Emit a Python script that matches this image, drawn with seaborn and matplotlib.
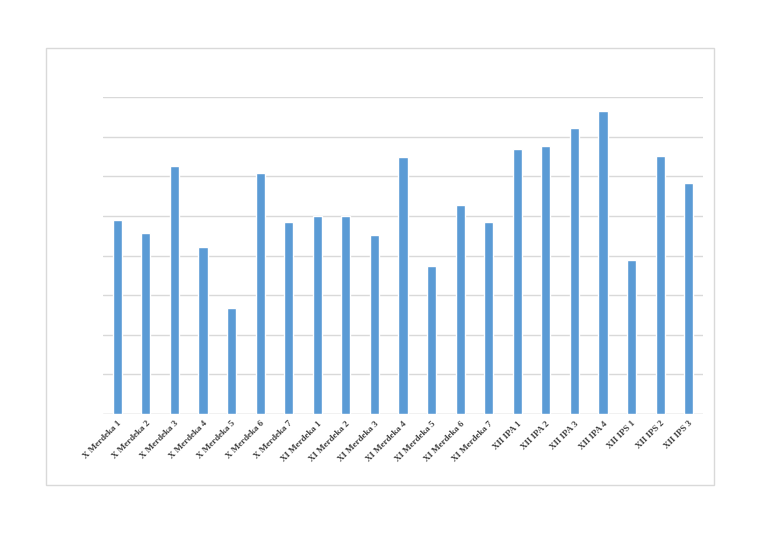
import matplotlib
matplotlib.use("Agg")
import matplotlib.pyplot as plt
from matplotlib.patches import Rectangle
import seaborn as sns
import pandas as pd

classes = [
    "X Merdeka 1", "X Merdeka 2", "X Merdeka 3", "X Merdeka 4", "X Merdeka 5",
    "X Merdeka 6", "X Merdeka 7", "XI Merdeka 1", "XI Merdeka 2", "XI Merdeka 3",
    "XI Merdeka 4", "XI Merdeka 5", "XI Merdeka 6", "XI Merdeka 7",
    "XII IPA 1", "XII IPA 2", "XII IPA 3", "XII IPA 4",
    "XII IPS 1", "XII IPS 2", "XII IPS 3",
]
values = [
    4.90, 4.57, 6.26, 4.22, 2.68, 6.09, 4.85, 5.00, 5.00, 4.52,
    6.49, 3.74, 5.28, 4.85, 6.69, 6.77, 7.22, 7.65, 3.89, 6.52, 5.83,
]
grid_ticks = [0, 1, 2, 3, 4, 5, 6, 7, 8]

sns.set_style("white")

df = pd.DataFrame({"kelas": classes, "nilai": values})

fig = plt.figure(figsize=(7.68, 5.43), dpi=100)
# outer chart frame
fig.patches.append(Rectangle((46 / 768, 1 - 485 / 543), (714 - 46) / 768, (485 - 48) / 543,
                             transform=fig.transFigure, fill=False,
                             edgecolor="#d9d9d9", linewidth=1.0, zorder=0))

ax = fig.add_axes([103 / 768, 1 - 414 / 543, 600 / 768, (414 - 97) / 543])
sns.barplot(data=df, x="kelas", y="nilai", color="#5B9BD5", saturation=1,
            width=0.32, ax=ax, zorder=3)

ax.set_ylim(0, 8)
ax.set_xlim(-0.5, len(classes) - 0.5)
ax.set_yticks(grid_ticks)
ax.set_yticklabels([])
ax.yaxis.grid(True, color="#d9d9d9", linewidth=1.0, zorder=0)
ax.xaxis.grid(False)
ax.tick_params(axis="both", length=0)
for s in ax.spines.values():
    s.set_visible(False)
ax.axhline(0, color="#d9d9d9", linewidth=1.0, zorder=1)

ax.set_xlabel("")
ax.set_ylabel("")
ax.set_xticks(range(len(classes)))
ax.set_xticklabels(classes, rotation=45, ha="right", rotation_mode="anchor",
                   fontsize=6.5, fontweight="bold", family=["Liberation Serif", "DejaVu Serif"],
                   color="#404040")
ax.tick_params(axis="x", pad=4)

plt.savefig("out.png", dpi=100)
